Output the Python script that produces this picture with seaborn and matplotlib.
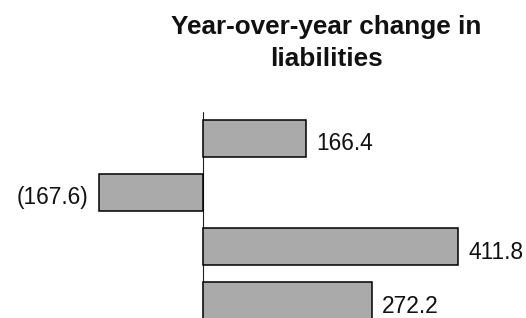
import matplotlib
matplotlib.use("Agg")
import matplotlib.pyplot as plt
import seaborn as sns
import pandas as pd

categories = ["A", "B", "C", "D"]
values = [166.4, -167.6, 411.8, 272.2]
value_labels = ["166.4", "(167.6)", "411.8", "272.2"]
title = "Year-over-year change in\nliabilities"

sns.set_theme(style="white")
plt.rcParams["font.family"] = ["Liberation Sans", "DejaVu Sans"]

df = pd.DataFrame({"category": categories, "value": values})

W, H = 526, 318
fig = plt.figure(figsize=(W / 100, H / 100), dpi=100)
ax = fig.add_axes([0, 0, 1, (H - 112) / H])

sns.barplot(data=df, x="value", y="category", orient="h", color="#aaaaaa",
            edgecolor="black", linewidth=1.1, width=0.69, saturation=1, ax=ax)

scale = 0.62
ax.set_xlim(-203 / scale, (W - 203) / scale)
ax.set_ylim(3.318, -0.485)
ax.axvline(0, color="#222222", linewidth=0.8, zorder=0)

for i, (v, lab) in enumerate(zip(values, value_labels)):
    if v >= 0:
        ax.annotate(lab, (v, i), xytext=(10, -3), textcoords="offset pixels",
                    ha="left", va="center_baseline", fontsize=16.4, color="#111111")
    else:
        ax.annotate(lab, (v, i), xytext=(-11, -3), textcoords="offset pixels",
                    ha="right", va="center_baseline", fontsize=16.4, color="#111111")

ax.set_xlabel("")
ax.set_ylabel("")
ax.set_xticks([])
ax.set_yticks([])
for s in ax.spines.values():
    s.set_visible(False)
ax.patch.set_alpha(0)

fig.text(326 / W, 1 - 15 / H, title, ha="center", va="top", fontsize=18.8,
         fontweight="bold", color="#111111", linespacing=1.4)

fig.savefig("out.png", dpi=100)
